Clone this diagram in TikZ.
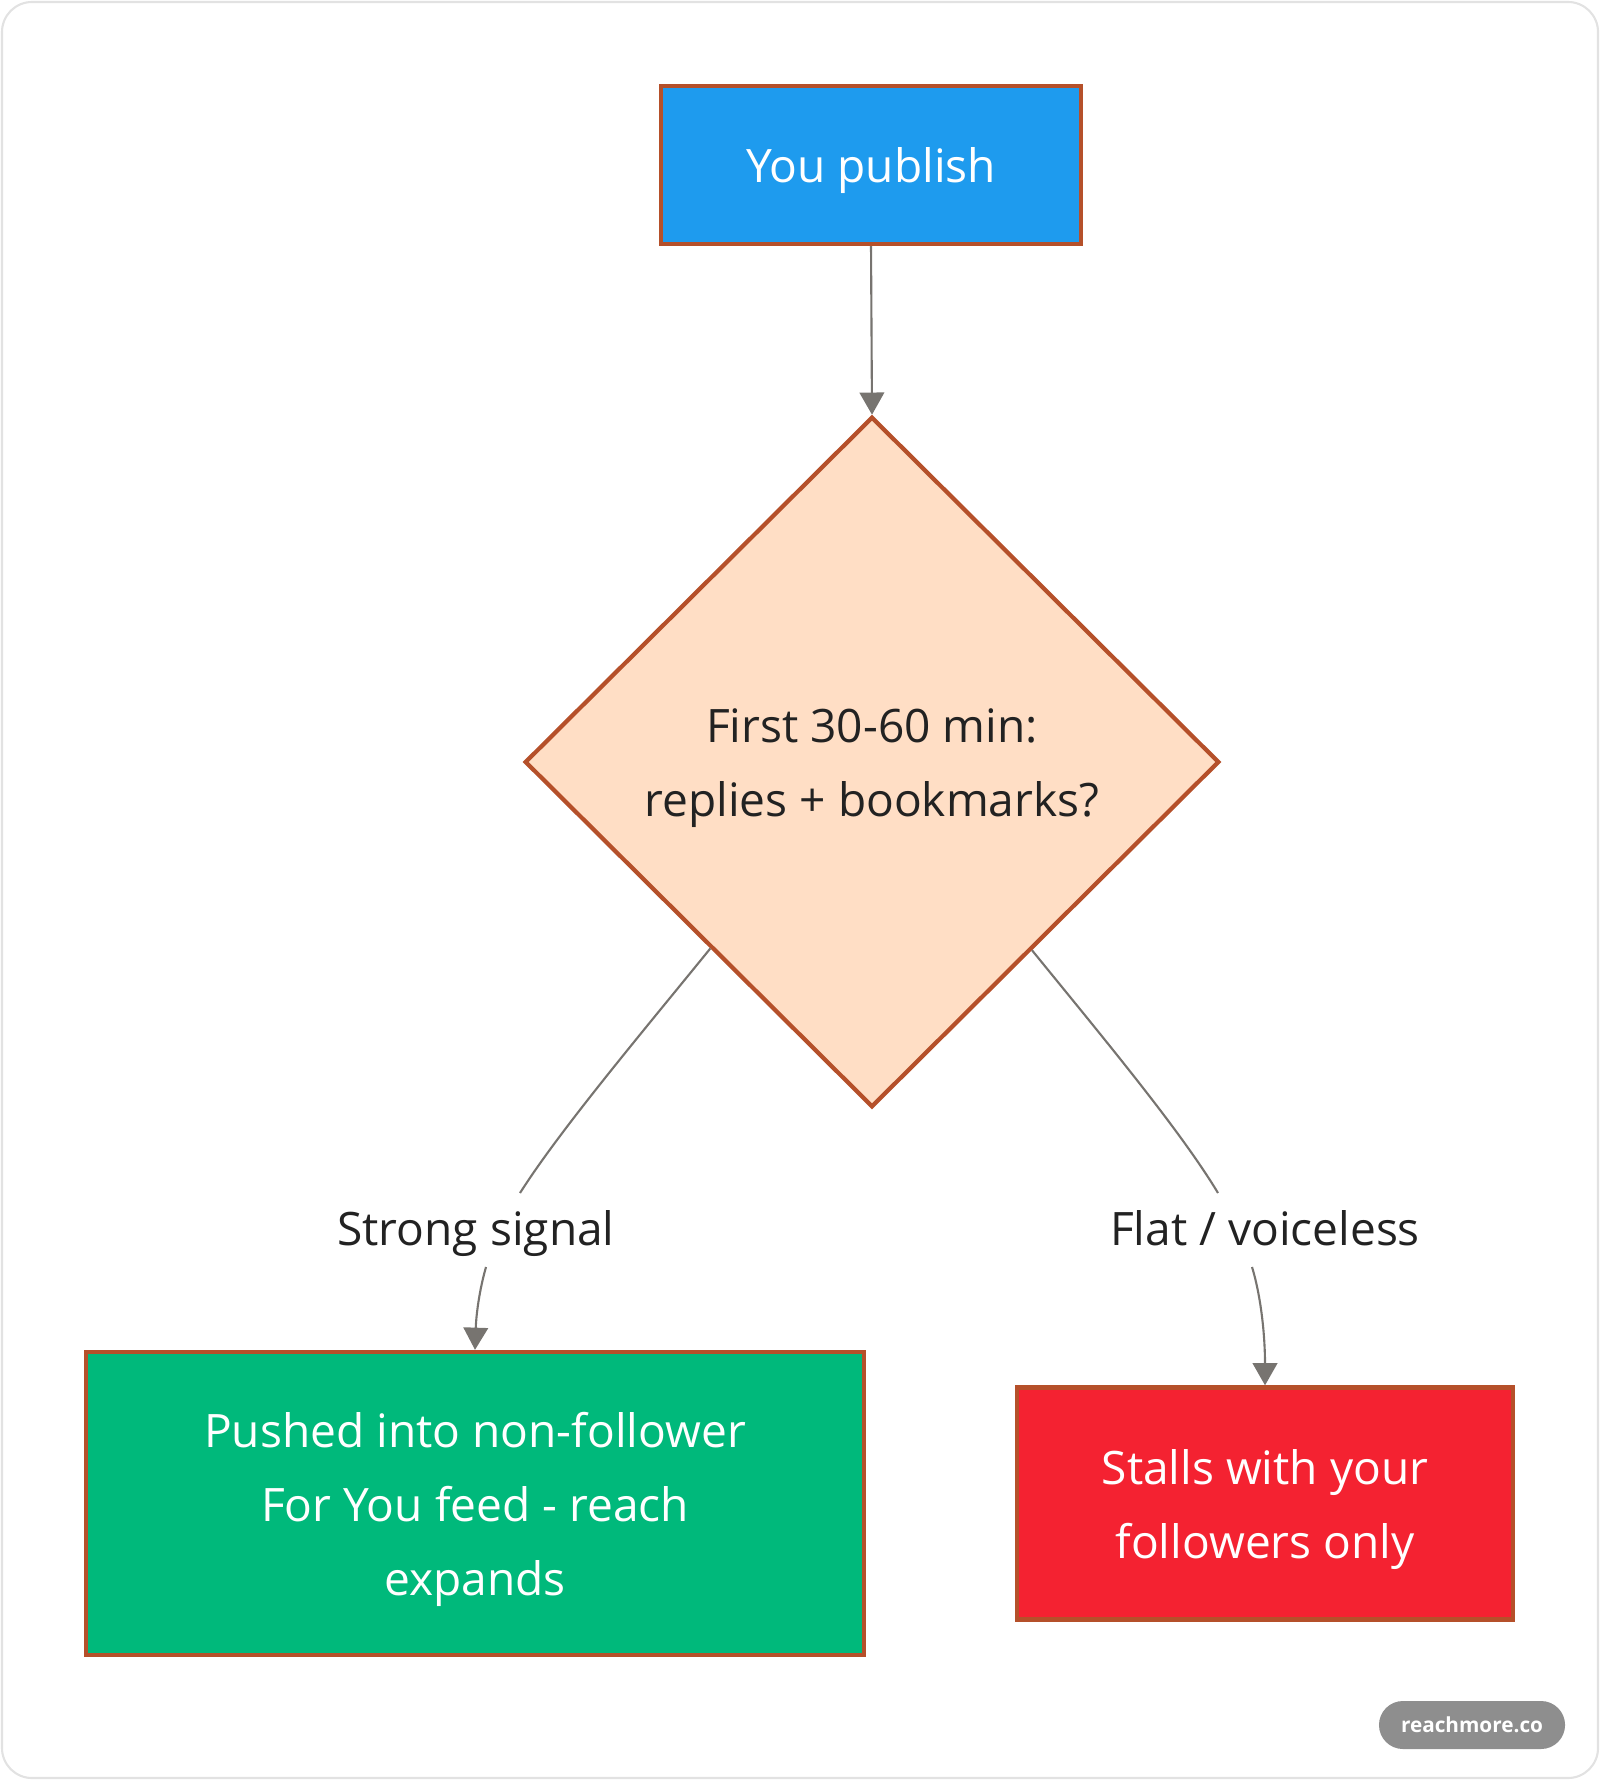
\documentclass[tikz,border=0pt]{standalone}
\usepackage{fontspec}
\setmainfont{Open Sans}
\usetikzlibrary{shapes.geometric,arrows.meta,calc}
\definecolor{bordc}{HTML}{B5502A}
\definecolor{bluec}{HTML}{1E9BEE}
\definecolor{peachc}{HTML}{FFDEC5}
\definecolor{greenc}{HTML}{00B97B}
\definecolor{redc}{HTML}{F42231}
\definecolor{edgec}{HTML}{777470}
\definecolor{txtc}{HTML}{222222}
\definecolor{framec}{HTML}{E2E2E2}
\definecolor{badgec}{HTML}{8E8E8E}
\begin{document}
\begin{tikzpicture}[x=0.01cm,y=-0.01cm,
  boxst/.style={draw=bordc, line width=1.2pt, rectangle, inner sep=0pt},
  decst/.style={draw=bordc, line width=1.2pt, fill=peachc, diamond, inner sep=0pt,
    minimum width=6.94cm, minimum height=6.9cm},
  txtst/.style={inner sep=0pt, align=center, font=\fontsize{13.1}{21}\selectfont, yshift=-0.06cm},
  lblst/.style={inner sep=0pt, anchor=base, font=\fontsize{13.1}{21}\selectfont, text=txtc},
  edgest/.style={draw=edgec, line width=0.6pt},
  arrst/.style={edgest, -{Triangle[width=7pt,length=6.3pt]}}]
\useasboundingbox (0,0) rectangle (1600,1780);
\draw[framec, line width=0.6pt, rounded corners=0.3cm] (2,2) rectangle (1598,1778);

\node[boxst, fill=bluec, minimum width=4.2cm, minimum height=1.58cm] (pub) at (871,165) {};
\node[decst] (dec) at (872,762) {};
\node[boxst, fill=greenc, minimum width=7.78cm, minimum height=3.03cm] (gb) at (475,1503.5) {};
\node[boxst, fill=redc, minimum width=4.96cm, minimum height=2.32cm] (rb) at (1265,1503.5) {};

\node[txtst, text=white] (pubt) at (pub) {You publish};
\node[txtst, text=txtc] (dect) at (dec) {First 30-60 min:\\replies + bookmarks?};
\node[txtst, text=white] (gbt) at (gb) {Pushed into non-follower\\For You feed - reach\\expands};
\node[txtst, text=white] (rbt) at (rb) {Stalls with your\\followers only};

\node[lblst] (ls) at (476,1245) {Strong signal};
\node[lblst] (lf) at (1265,1245) {Flat / voiceless};

\coordinate (dl) at ($(dec.west)!0.537!(dec.south)$);
\coordinate (dr) at ($(dec.south)!0.458!(dec.east)$);
\coordinate (lsin) at (520,1193);
\coordinate (lsout) at (486,1267);
\coordinate (lfin) at (1218,1193);
\coordinate (lfout) at (1252,1267);

\draw[arrst] (pub.south) -- (dec.north);
\draw[edgest] (dl) .. controls (640,1035) and (560,1130) .. (lsin);
\draw[arrst] (lsout) .. controls (478,1295) and (476,1320) .. (gb.north);
\draw[edgest] (dr) .. controls (1105,1040) and (1180,1130) .. (lfin);
\draw[arrst] (lfout) .. controls (1262,1300) and (1265,1340) .. (rb.north);

\node[fill=badgec, rounded corners=0.24cm, minimum width=1.86cm, minimum height=0.48cm, inner sep=0pt,
  text=white, font=\fontsize{5.9}{8}\selectfont\bfseries] (badge) at (1472,1725) {reachmore.co};
\end{tikzpicture}
\end{document}
